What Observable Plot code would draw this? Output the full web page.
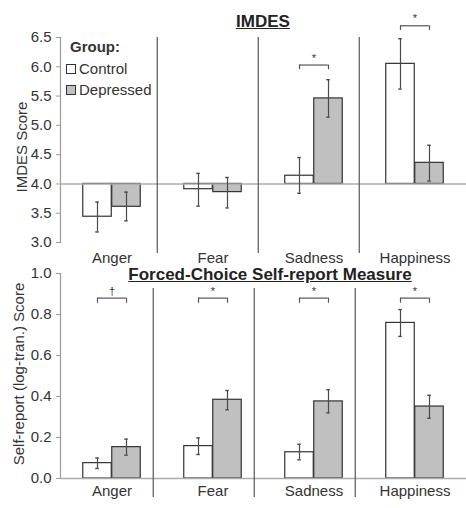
<!DOCTYPE html>
<html><head><meta charset="utf-8">
<script src="https://cdn.jsdelivr.net/npm/d3@7"></script>
<script src="https://cdn.jsdelivr.net/npm/@observablehq/plot@0.6"></script>
<style>
body{margin:0;background:#fff;font-family:"Liberation Sans",Arial,sans-serif;}
#wrap{position:relative;width:466px;height:508px;overflow:hidden;background:#fff;}
.abs{position:absolute;}
.title{font-weight:bold;font-size:17px;line-height:20px;text-decoration:underline;color:#222;white-space:nowrap;transform:translateX(-50%);}
.leg{font-size:15px;line-height:18px;color:#333;white-space:nowrap;}
.sw{display:inline-block;width:8px;height:8px;border:1px solid #333;margin-right:3px;vertical-align:0px;}
</style></head><body>
<div id="wrap">
  <div id="top" class="abs" style="left:0;top:0"></div>
  <div id="bot" class="abs" style="left:0;top:263px"></div>
  <div class="abs title" style="left:263px;top:12px">IMDES</div>
  <div class="abs title" style="left:270px;top:265px">Forced-Choice Self-report Measure</div>
  <div class="abs leg" style="left:70px;top:38px;font-weight:bold">Group:</div>
  <div class="abs leg" style="left:66px;top:60px"><span class="sw" style="background:#fff"></span>Control</div>
  <div class="abs leg" style="left:66px;top:81px"><span class="sw" style="background:#c0c0c0"></span>Depressed</div>
</div>
<script>
const cats = ["Anger", "Fear", "Sadness", "Happiness"];
const groups = ["Control", "Depressed"];
const groupFill = ["#ffffff", "#c0c0c0"];

// IMDES
const imdesCtrl   = [3.44, 3.91, 4.14, 6.05];
const imdesCtrlLo = [3.18, 3.62, 3.84, 5.62];
const imdesCtrlHi = [3.69, 4.18, 4.45, 6.48];
const imdesDep    = [3.61, 3.86, 5.46, 4.36];
const imdesDepLo  = [3.37, 3.59, 5.14, 4.05];
const imdesDepHi  = [3.86, 4.11, 5.78, 4.66];
const imdesSig     = ["", "", "*", "*"];
const imdesBracket = [null, null, 6.03, 6.70];
const imdesTicks = [3.0, 3.5, 4.0, 4.5, 5.0, 5.5, 6.0, 6.5];

// Self-report
const srCtrl   = [0.075, 0.158, 0.128, 0.759];
const srCtrlLo = [0.049, 0.117, 0.091, 0.693];
const srCtrlHi = [0.100, 0.198, 0.167, 0.824];
const srDep    = [0.153, 0.384, 0.376, 0.351];
const srDepLo  = [0.114, 0.335, 0.320, 0.294];
const srDepHi  = [0.192, 0.429, 0.433, 0.406];
const srSig     = ["\u2020", "*", "*", "*"];
const srBracket = [0.88, 0.88, 0.88, 0.88];
const srTicks = [0.0, 0.2, 0.4, 0.6, 0.8, 1.0];

const W = 466, ML = 60, MR = 0;
const step = (W - ML - MR) / cats.length;
const barW = 29, half = barW / 2;
const barInset = (step - barW) / 2;
const capInset = (step - 4) / 2;

function chart(o) {
  const series = [
    {mean: o.ctrl, lo: o.ctrlLo, hi: o.ctrlHi, fill: groupFill[0], dx: -half},
    {mean: o.dep, lo: o.depLo, hi: o.depHi, fill: groupFill[1], dx: half}
  ];
  const marks = [
    Plot.frame({anchor: "left", stroke: "#9a9a9a", strokeWidth: 1.2}),
    Plot.axisY({ticks: o.ticks, tickFormat: d3.format(".1f"), tickSize: 4, tickPadding: 5,
      fontSize: 15, fill: "#333", stroke: "#9a9a9a", label: null}),
    Plot.axisX({tickSize: 0, tickPadding: o.xPad, fontSize: 15, fill: "#333", label: null}),
    Plot.text([o.label], {frameAnchor: "left", text: d => d, rotate: -90, dx: o.labelDx, dy: o.labelDy,
      fontSize: 15, fill: "#333", textAnchor: "middle"})
  ];
  for (const s of series) {
    const rows = cats.map((c, i) => ({cat: c, v: s.mean[i], lo: s.lo[i], hi: s.hi[i]}));
    marks.push(Plot.barY(rows, {x: "cat", y1: o.base, y2: "v", fill: s.fill, stroke: "#333", strokeWidth: 1.2,
      insetLeft: barInset, insetRight: barInset, dx: s.dx}));
  }
  marks.push(Plot.ruleY([o.base], {stroke: "#ababab", strokeWidth: 1.4}));
  for (const s of series) {
    const rows = cats.map((c, i) => ({cat: c, lo: s.lo[i], hi: s.hi[i]}));
    marks.push(Plot.ruleX(rows, {x: "cat", y1: "lo", y2: "hi", dx: s.dx, stroke: "#4a4a4a", strokeWidth: 1.2}));
    marks.push(Plot.tickY(rows, {x: "cat", y: "lo", dx: s.dx, insetLeft: capInset, insetRight: capInset, stroke: "#4a4a4a", strokeWidth: 1.4}));
    marks.push(Plot.tickY(rows, {x: "cat", y: "hi", dx: s.dx, insetLeft: capInset, insetRight: capInset, stroke: "#4a4a4a", strokeWidth: 1.4}));
  }
  marks.push(Plot.ruleX(cats.slice(1), {x: d => d, y1: o.sepTop, y2: o.domain[0], dx: -step / 2 + o.sepShift,
    insetBottom: -o.sepExt, stroke: "#555", strokeWidth: 1.2}));
  const br = cats.map((c, i) => ({cat: c, y: o.bracket[i], s: o.sig[i]})).filter(d => d.y != null);
  marks.push(Plot.tickY(br, {x: "cat", y: "y", insetLeft: barInset, insetRight: barInset, stroke: "#555", strokeWidth: 1.2}));
  for (const dx of [-half, half]) {
    marks.push(Plot.ruleX(br, {x: "cat", y1: "y", y2: d => d.y - o.legLen, dx, stroke: "#555", strokeWidth: 1.2}));
  }
  marks.push(Plot.text(br, {x: "cat", y: "y", text: "s", dy: -7, fontSize: 11, fill: "#333"}));
  return Plot.plot({
    width: W, height: o.height,
    marginLeft: ML, marginRight: MR, marginTop: o.marginTop, marginBottom: o.marginBottom,
    style: {fontFamily: "Liberation Sans, Arial, sans-serif", fontSize: "15px", color: "#333", background: "transparent", overflow: "visible"},
    x: {type: "band", domain: cats, padding: 0, axis: null},
    y: {domain: o.domain, axis: null},
    marks
  });
}

document.getElementById("top").append(chart({
  ctrl: imdesCtrl, ctrlLo: imdesCtrlLo, ctrlHi: imdesCtrlHi,
  dep: imdesDep, depLo: imdesDepLo, depHi: imdesDepHi,
  sig: imdesSig, bracket: imdesBracket, ticks: imdesTicks,
  domain: [3, 6.5], base: 4, label: "IMDES Score", labelDx: -38, labelDy: 7,
  height: 270, marginTop: 37, marginBottom: 28, xPad: 10,
  sepTop: 6.5, sepShift: -5, sepExt: 11, legLen: 0.08
}));
document.getElementById("bot").append(chart({
  ctrl: srCtrl, ctrlLo: srCtrlLo, ctrlHi: srCtrlHi,
  dep: srDep, depLo: srDepLo, depHi: srDepHi,
  sig: srSig, bracket: srBracket, ticks: srTicks,
  domain: [0, 1], base: 0, label: "Self-report (log-tran.) Score", labelDx: -41, labelDy: -2,
  height: 247, marginTop: 10, marginBottom: 32, xPad: 7,
  sepTop: 0.927, sepShift: -9, sepExt: 19, legLen: 0.025
}));
</script>
</body></html>
